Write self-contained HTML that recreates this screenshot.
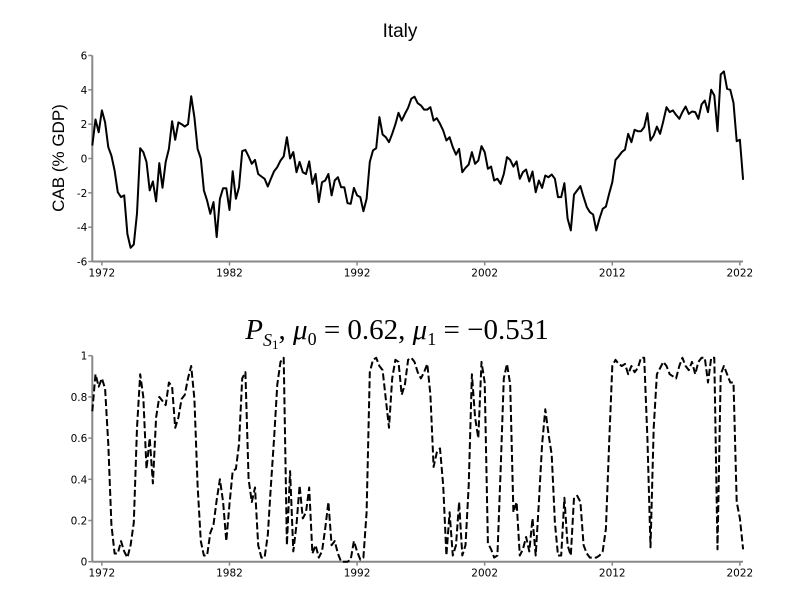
<!DOCTYPE html>
<html><head><meta charset="utf-8"><style>
body{margin:0;background:#fff}
svg{display:block}
text{font-family:"DejaVu Sans","Liberation Sans",sans-serif;font-size:10.5px;fill:#000}
</style></head><body>
<svg id="chart" width="800" height="600">
<text x="400" y="37" text-anchor="middle" style="font-size:19px;font-family:'Liberation Sans',sans-serif">Italy</text>
<text transform="translate(64,158) rotate(-90)" text-anchor="middle" style="font-size:17px;font-family:'Liberation Sans',sans-serif">CAB (% GDP)</text>
<text x="397" y="339" text-anchor="middle" style="font-size:29px;font-family:'Liberation Serif',serif"><tspan font-style="italic">P</tspan><tspan font-style="italic" font-size="18" dy="7">S</tspan><tspan font-size="13" dy="3">1</tspan><tspan dy="-10">, </tspan><tspan font-style="italic">μ</tspan><tspan font-size="18" dy="6">0</tspan><tspan dy="-6"> = 0.62, </tspan><tspan font-style="italic">μ</tspan><tspan font-size="18" dy="6">1</tspan><tspan dy="-6"> = −0.531</tspan></text>
<g id="top"></g><g id="bot"></g>
</svg>
<script>
const startYear = 1971.25;
const xTicks = [1972, 1982, 1992, 2002, 2012, 2022];
const topTicks = [-6, -4, -2, 0, 2, 4, 6];
const botTicks = [0, 0.2, 0.4, 0.6, 0.8, 1];
const botTickLabels = ["0", "0.2", "0.4", "0.6", "0.8", "1"];
const cab = [0.76,2.27,1.53,2.8,2.1,0.66,0.17,-0.7,-1.96,-2.25,-2.15,-4.4,-5.2,-5.0,-3.2,0.6,0.37,-0.2,-1.86,-1.34,-2.5,-0.27,-1.7,-0.2,0.56,2.17,1.09,2.1,2.0,1.86,2.0,3.63,2.4,0.56,0,-1.86,-2.45,-3.22,-2.54,-4.58,-2.35,-1.73,-1.73,-3.0,-0.74,-2.35,-1.67,0.43,0.5,0.12,-0.31,-0.08,-0.9,
-1.05,-1.18,-1.63,-1.18,-0.74,-0.5,-0.12,0.12,1.24,0,0.37,-0.8,-0.2,-0.8,-0.9,-0.17,-1.48,-0.9,-2.54,-1.38,-1.28,-0.9,-2.15,-1.28,-1.09,-1.67,-1.67,-2.6,-2.64,-1.71,-2.15,-2.25,-3.07,-2.35,-0.2,0.47,0.6,2.41,1.4,1.24,0.95,1.44,2.0,2.66,2.21,2.6,2.95,3.48,3.6,3.22,
3.09,2.85,2.85,2.99,2.21,2.35,2.02,1.63,1.05,1.24,0.66,0.23,0.56,-0.8,-0.54,-0.35,0.37,-0.31,-0.12,0.72,0.37,-0.6,-0.47,-1.28,-1.18,-1.48,-0.9,0.08,-0.08,-0.47,-0.17,-1.18,-0.8,-0.64,-1.34,-0.76,-1.96,-1.28,-1.71,-0.99,-1.09,-0.93,-1.18,-2.25,-2.25,-1.44,-3.5,-4.19,-2.1,-1.86,-1.61,
-2.25,-2.83,-3.13,-3.26,-4.19,-3.5,-2.93,-2.8,-2.06,-1.38,-0.08,0.12,0.37,0.52,1.44,0.95,1.67,1.59,1.59,1.83,2.64,1.05,1.34,1.86,1.44,2.17,2.99,2.7,2.8,2.54,2.31,2.7,3.03,2.6,2.74,2.7,2.31,3.15,3.38,2.7,4.0,3.67,1.59,4.89,5.07,4.06,4.0,3.24,1.01,1.09,-1.24];
const prob = [0.73,0.91,0.85,0.89,0.84,0.57,0.18,0.04,0.04,0.1,0.05,0.02,0.08,0.19,0.65,0.91,0.8,0.45,0.6,0.38,0.7,0.8,0.78,0.76,0.87,0.85,0.65,0.7,0.79,0.81,0.89,0.95,0.79,0.37,0.1,0.03,0.03,0.14,0.18,0.3,0.4,0.29,0.1,0.28,0.44,0.45,0.57,0.89,0.92,0.4,0.29,0.36,0.08,
0.02,0.02,0.13,0.37,0.6,0.86,0.97,0.99,0.08,0.44,0.05,0.18,0.37,0.21,0.24,0.36,0.04,0.08,0.02,0.05,0.16,0.29,0.08,0.1,0.04,0,0,0,0.01,0.1,0.05,0.01,0.02,0.24,0.92,0.98,0.99,0.95,0.93,0.79,0.65,0.89,0.98,0.97,0.81,0.86,0.98,0.99,0.97,0.92,
0.89,0.92,0.96,0.81,0.46,0.53,0.55,0.37,0.03,0.24,0.03,0.08,0.29,0.03,0.08,0.37,0.91,0.7,0.6,0.97,0.87,0.09,0.06,0.02,0.03,0.44,0.89,0.96,0.86,0.24,0.29,0.03,0.06,0.12,0.05,0.21,0.03,0.29,0.57,0.74,0.62,0.52,0.19,0.03,0.03,0.31,0.08,0.03,0.31,0.32,0.29,
0.08,0.04,0.02,0.02,0.02,0.03,0.05,0.16,0.57,0.95,0.98,0.96,0.95,0.96,0.91,0.95,0.92,0.94,0.99,0.99,0.6,0.07,0.65,0.91,0.94,0.97,0.95,0.91,0.9,0.89,0.95,0.99,0.95,0.93,0.97,0.91,0.97,0.99,0.99,0.87,0.99,0.99,0.06,0.91,0.95,0.91,0.87,0.87,0.29,0.21,0.06];

const NS='http://www.w3.org/2000/svg';
const X0=92.3, PXY=12.76;
const xs = yr => X0 + (yr-1971.25)*PXY;
const yTop = v => 158.5 - v*17.17;
const yBot = v => 561.7 - v*206;

function mk(tag, parent, attrs){const e=document.createElementNS(NS,tag);for(const k in attrs)e.setAttribute(k,attrs[k]);parent.appendChild(e);return e;}

function axes(g, ticks, labels, yf, y0, y1, prefix){
  const ya=mk('line',g,{x1:X0,x2:X0,y1:yf(y1),y2:yf(y0),stroke:'#888','stroke-width':2});
  
  
  const xa=mk('line',g,{x1:X0,x2:743,y1:yf(y0),y2:yf(y0),stroke:'#888','stroke-width':2});
  
  
  ticks.forEach((t,i)=>{
    mk('line',g,{x1:X0-4,x2:X0,y1:yf(t),y2:yf(t),stroke:'#888','stroke-width':1.5});
    const tx=mk('text',g,{x:X0-5,y:yf(t)+4,'text-anchor':'end'});
    tx.textContent=labels[i];
    
    
  });
  xTicks.forEach(yr=>{
    const x=xs(yr);
    mk('line',g,{x1:x,x2:x,y1:yf(y0),y2:yf(y0)+4,stroke:'#888','stroke-width':1.5});
    const tx=mk('text',g,{x:x,y:yf(y0)+15,'text-anchor':'middle'});
    tx.textContent=String(yr);
    
    
  });
}
const gt=document.getElementById('top'), gb=document.getElementById('bot');
axes(gt, topTicks, topTicks.map(String), yTop, -6, 6, 'top');
axes(gb, botTicks, botTickLabels, yBot, 0, 1, 'bottom');

const p1=cab.map((v,i)=>xs(startYear+i*0.25).toFixed(1)+','+yTop(v).toFixed(1)).join(' ');
const l1=mk('polyline',gt,{points:p1,fill:'none',stroke:'#000','stroke-width':2,'stroke-linejoin':'round'});


const p2=prob.map((v,i)=>xs(startYear+i*0.25).toFixed(1)+','+yBot(v).toFixed(1)).join(' ');
const l2=mk('polyline',gb,{points:p2,fill:'none',stroke:'#000','stroke-width':2,'stroke-dasharray':'7,3','stroke-linejoin':'round'});


</script>
</body></html>
